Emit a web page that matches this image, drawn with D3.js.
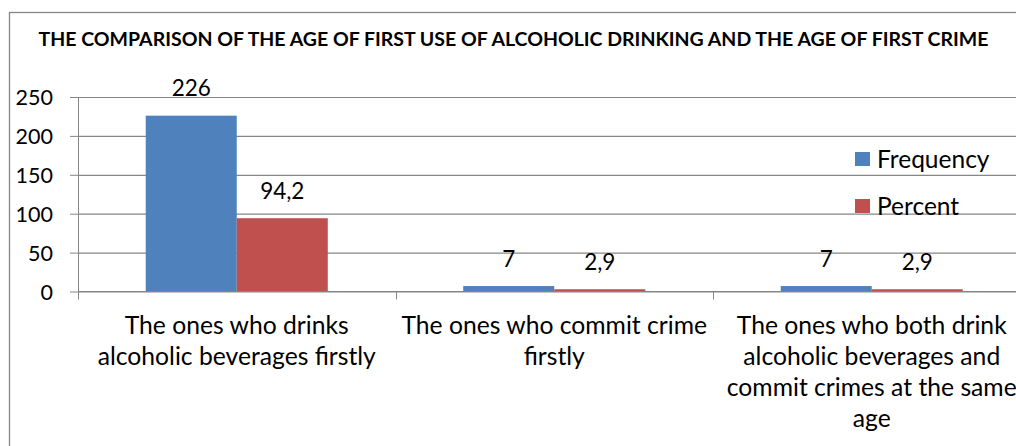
<!DOCTYPE html>
<html><head><meta charset="utf-8">
<script src="https://cdn.jsdelivr.net/npm/d3@7"></script>
<style>
html,body{margin:0;padding:0;background:#fff;overflow:hidden}
svg{display:block;font-family:Lato,"Open Sans",sans-serif}
</style></head>
<body><svg id="c" width="1016" height="446"></svg>
<script>
const title = "THE COMPARISON OF THE AGE OF FIRST USE OF ALCOHOLIC DRINKING AND THE AGE OF FIRST CRIME";
const categories = [
  ["The ones who drinks", "alcoholic beverages firstly"],
  ["The ones who commit crime", "firstly"],
  ["The ones who both drink", "alcoholic beverages and", "commit crimes at the same", "age"]
];
const seriesNames = ["Frequency", "Percent"];
const frequency = [226, 7, 7];
const percent = [94.2, 2.9, 2.9];
const yTicks = [0, 50, 100, 150, 200, 250];
const colors = ["#4F81BD", "#C0504D"];

const svg = d3.select("#c");
const L = 78, R = 1030.5, T = 97, B = 291.5;
const catIdx = categories.map((c, i) => i);
const x0 = d3.scaleBand().domain(catIdx).range([L, R]).padding(0);
const x1 = d3.scaleBand().domain(seriesNames).range([0, x0.bandwidth()]).paddingInner(0).paddingOuter(0.744);
const y = d3.scaleLinear().domain([0, 250]).range([B, T]);
const fmt = v => String(v).replace(".", ",");

// outer border
svg.append("rect").attr("x", 9.5).attr("y", 12.5).attr("width", 1100).attr("height", 500)
  .attr("fill", "none").attr("stroke", "#868686").attr("stroke-width", 1.3);

// title
svg.append("text").attr("x", 513.5).attr("y", 45.5).attr("text-anchor", "middle")
  .attr("font-weight", "bold").attr("font-size", 19.5).attr("fill", "#000").text(title);

// gridlines + y axis
const yAxis = d3.axisLeft(y).tickValues(yTicks).tickSize(8).tickPadding(17);
const gy = svg.append("g").attr("transform", `translate(${L},0)`).call(yAxis);
gy.select(".domain").attr("stroke", "#868686").attr("d", `M0.5,${T}V${B}`);
gy.selectAll(".tick line").attr("stroke", "#868686").attr("x1", 0.5);
gy.selectAll(".tick").append("line").attr("x1", 0).attr("x2", R - L).attr("stroke", "#868686").attr("stroke-width", 1.2);
gy.selectAll(".tick text").attr("font-size", 21.5).attr("fill", "#000").attr("font-family", "Lato").attr("dy", "0.36em");

// bars
const data = catIdx.map(i => ({ i, vals: [frequency[i], percent[i]] }));
const g = svg.append("g");
const grp = g.selectAll("g").data(data).join("g").attr("transform", d => `translate(${x0(d.i)},0)`);
grp.selectAll("rect").data(d => d.vals.map((v, k) => ({ v, k }))).join("rect")
  .attr("x", d => x1(seriesNames[d.k])).attr("width", x1.bandwidth())
  .attr("y", d => y(d.v)).attr("height", d => B - y(d.v))
  .attr("fill", d => colors[d.k]);
grp.selectAll("text.val").data(d => d.vals.map((v, k) => ({ v, k }))).join("text").attr("class", "val")
  .attr("x", d => x1(seriesNames[d.k]) + x1.bandwidth() / 2)
  .attr("y", d => y(d.v) - 19.5).attr("text-anchor", "middle").attr("font-size", 22.5).attr("fill", "#000")
  .text(d => fmt(d.v));

// x axis
svg.append("line").attr("x1", L).attr("x2", R).attr("y1", B).attr("y2", B).attr("stroke", "#868686").attr("stroke-width", 1.2);
const bounds = catIdx.map(i => x0(i)).concat([R]);
svg.selectAll("line.xt").data(bounds).join("line").attr("class", "xt")
  .attr("x1", d => Math.round(d) + 0.5).attr("x2", d => Math.round(d) + 0.5).attr("y1", B).attr("y2", B + 8).attr("stroke", "#868686");
const xl = svg.selectAll("text.xl").data(categories).join("text").attr("class", "xl")
  .attr("text-anchor", "middle").attr("font-size", 24.7).attr("fill", "#000");
xl.each(function (lines, i) {
  d3.select(this).selectAll("tspan").data(lines).join("tspan")
    .attr("x", x0(i) + x0.bandwidth() / 2).attr("y", (d, j) => 334 + j * 31).text(d => d);
});

// legend
const lg = svg.append("g").selectAll("g").data(seriesNames).join("g")
  .attr("transform", (d, k) => `translate(855,${152 + k * 47})`);
lg.append("rect").attr("width", 15).attr("height", 14).attr("fill", (d, k) => colors[k]);
lg.append("text").attr("x", 22).attr("y", 15.5).attr("font-size", 24.5).attr("fill", "#000").text(d => d);
</script></body></html>
